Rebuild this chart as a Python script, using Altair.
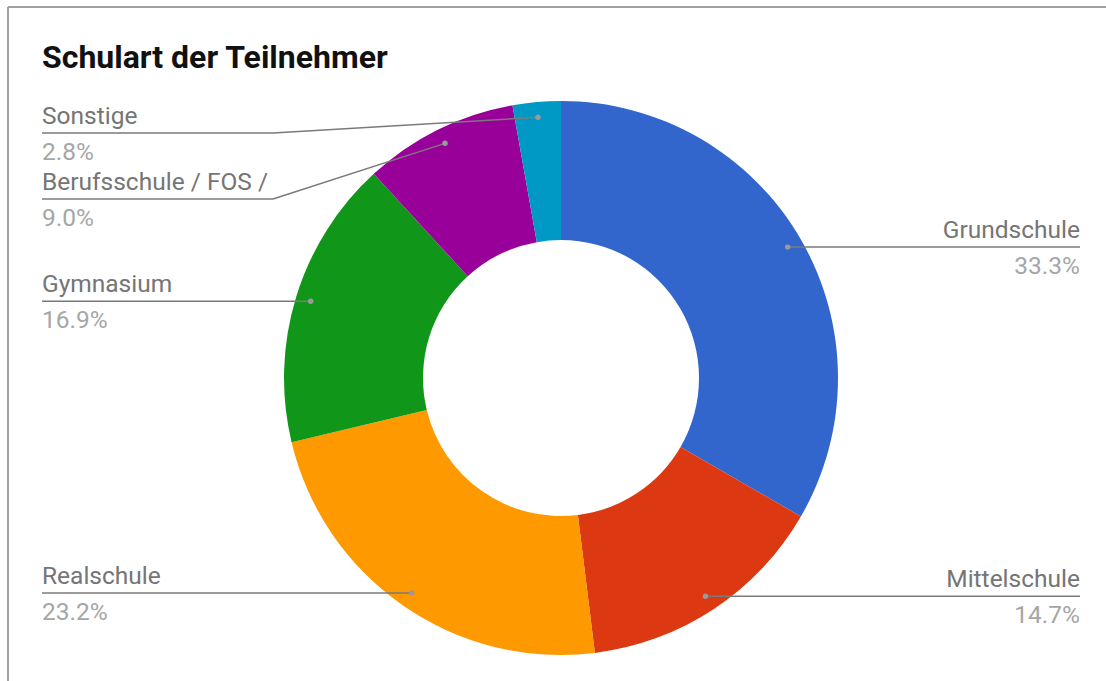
import math
import altair as alt
import pandas as pd

# ---- data ----
categories = ["Grundschule", "Mittelschule", "Realschule", "Gymnasium",
              "Berufsschule / FOS /", "Sonstige"]
shares = [33.3, 14.7, 23.2, 16.9, 9.0, 2.8]
pct_labels = ["33.3%", "14.7%", "23.2%", "16.9%", "9.0%", "2.8%"]
colors = ["#3366cc", "#dc3912", "#ff9900", "#109618", "#990099", "#0099c6"]
title_text = "Schulart der Teilnehmer"

# ---- layout ----
W, H = 1106, 681
CX, CY = 561, 378
R_OUT, R_IN = 277, 138
DOT_R = 0.945 * R_OUT
LEFT_X, RIGHT_X = 42, 1080
KNEE_X = 273
line_y_override = {"Sonstige": 133, "Berufsschule / FOS /": 199}
FONT = "Roboto"
NAME_COLOR = "#757575"
PCT_COLOR = "#a6a6a6"
LINE_COLOR = "#7a7a7a"

total = sum(shares)
arc_df = pd.DataFrame({"idx": range(len(categories)), "cat": categories, "share": shares})

segs, dots, labels = [], [], []
cum = 0.0
for i, (c, s, p) in enumerate(zip(categories, shares, pct_labels)):
    mid = (cum + s / 2) / total * 2 * math.pi
    cum += s
    dx = CX + DOT_R * math.sin(mid)
    dy = CY - DOT_R * math.cos(mid)
    dots.append({"x": dx, "y": dy})
    side = "right" if math.sin(mid) > 0 else "left"
    ly = line_y_override.get(c, dy)
    if side == "right":
        segs.append({"x": dx, "y": dy, "x2": RIGHT_X, "y2": ly})
        tx = RIGHT_X
    else:
        if c in line_y_override:
            segs.append({"x": LEFT_X, "y": ly, "x2": KNEE_X, "y2": ly})
            segs.append({"x": KNEE_X, "y": ly, "x2": dx, "y2": dy})
        else:
            segs.append({"x": LEFT_X, "y": ly, "x2": dx, "y2": dy})
        tx = LEFT_X
    labels.append({"side": side, "x": tx, "yn": ly - 9, "yp": ly + 27, "name": c, "pct": p})

seg_df = pd.DataFrame(segs)
dot_df = pd.DataFrame(dots)
lab_df = pd.DataFrame(labels)
border_df = pd.DataFrame([
    {"x": 8, "y": 7, "x2": W, "y2": 7},
    {"x": 8, "y": 7, "x2": 8, "y2": H},
])
title_df = pd.DataFrame([{"x": LEFT_X, "y": 68, "t": title_text}])

X = lambda f: alt.X(f, type="quantitative", scale=None, axis=None)
Y = lambda f: alt.Y(f, type="quantitative", scale=None, axis=None)

border = alt.Chart(border_df).mark_rule(color="#a0a0a0", strokeWidth=2).encode(
    x=X("x"), y=Y("y"), x2="x2", y2="y2")

arcs = alt.Chart(arc_df).mark_arc(innerRadius=R_IN, outerRadius=R_OUT).encode(
    theta=alt.Theta("share:Q", stack=True),
    color=alt.Color("cat:N", scale=alt.Scale(domain=categories, range=colors), legend=None),
    order=alt.Order("idx:Q"),
    x=alt.value(CX), y=alt.value(CY),
)

lines = alt.Chart(seg_df).mark_rule(color=LINE_COLOR, strokeWidth=1.5).encode(
    x=X("x"), y=Y("y"), x2="x2", y2="y2")

pts = alt.Chart(dot_df).mark_circle(color="#9a9a9a", size=30, opacity=1).encode(
    x=X("x"), y=Y("y"))

def text_layers(side, align):
    d = lab_df[lab_df.side == side]
    n = alt.Chart(d).mark_text(align=align, baseline="alphabetic", font=FONT, fontSize=24.5,
                               color=NAME_COLOR).encode(x=X("x"), y=Y("yn"), text="name:N")
    p = alt.Chart(d).mark_text(align=align, baseline="alphabetic", font=FONT, fontSize=24.5,
                               color=PCT_COLOR).encode(x=X("x"), y=Y("yp"), text="pct:N")
    return [n, p]

title = alt.Chart(title_df).mark_text(align="left", baseline="alphabetic", font=FONT,
                                      fontSize=32, fontWeight="bold", color="#111111").encode(
    x=X("x"), y=Y("y"), text="t:N")

chart = alt.layer(border, arcs, lines, pts, *text_layers("left", "left"),
                  *text_layers("right", "right"), title).properties(
    width=W, height=H, padding=0, autosize=alt.AutoSizeParams(type="none")
).configure_view(strokeWidth=0)

chart.save("out.html", embed_options={"renderer": "svg", "actions": False})
